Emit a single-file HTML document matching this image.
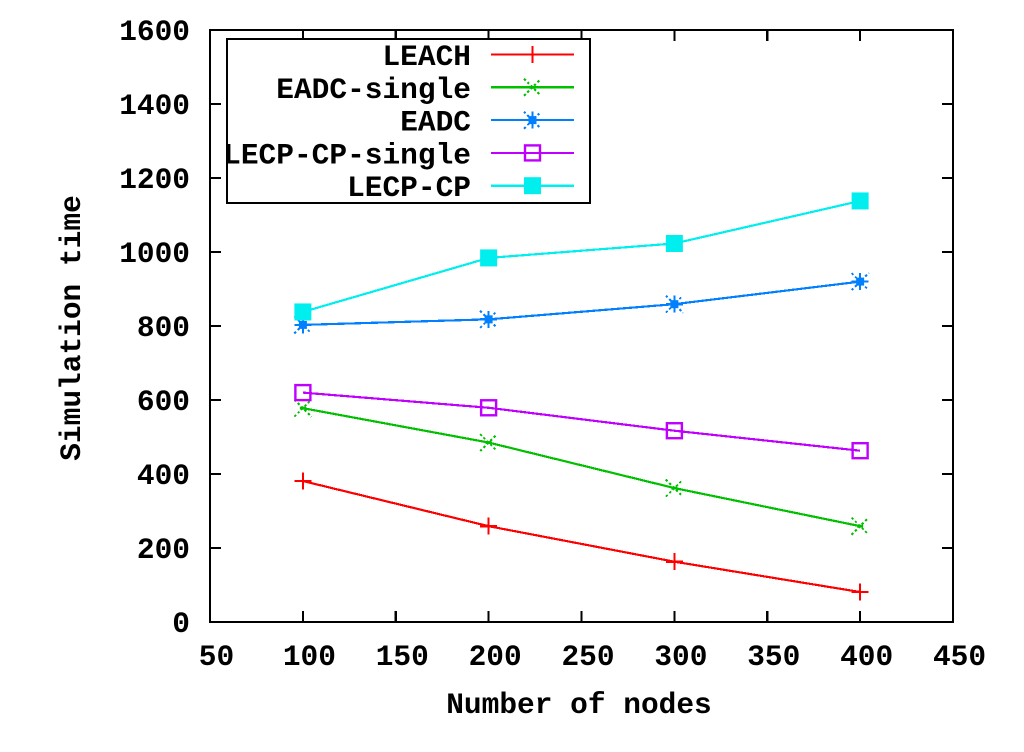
<!DOCTYPE html>
<html lang="en">
<head>
<meta charset="utf-8">
<title>Simulation time vs number of nodes</title>
<style>
html,body{margin:0;padding:0;background:#fff;}
svg{display:block;}
text{font-family:"Liberation Mono",monospace;font-weight:bold;font-size:29.5px;fill:#000;}
</style>
</head>
<body>
<svg id="chart" xmlns="http://www.w3.org/2000/svg" width="1024" height="752" viewBox="0 0 1024 752"></svg>
<script>
const categories = [100, 200, 300, 400];
const leachValues = [381, 259, 163, 81];
const eadcSingleValues = [578, 485, 362, 259];
const eadcValues = [803, 818, 859, 920];
const lecpSingleValues = [620, 579, 517, 463];
const lecpValues = [838, 984, 1023, 1138];
const xTicks = [50, 100, 150, 200, 250, 300, 350, 400, 450];
const yTicks = [0, 200, 400, 600, 800, 1000, 1200, 1400, 1600];
const seriesNames = ['LEACH', 'EADC-single', 'EADC', 'LECP-CP-single', 'LECP-CP'];
const seriesValues = [leachValues, eadcSingleValues, eadcValues, lecpSingleValues, lecpValues];
const seriesColors = ['#ff0000', '#00c000', '#0080ff', '#c000ff', '#00eeee'];
const seriesMarkers = ['plus', 'cross', 'star', 'box', 'filled'];

const NS = 'http://www.w3.org/2000/svg';
const svg = document.getElementById('chart');
const plot = {left: 210, right: 953, top: 30, bottom: 622};
const sx = v => plot.left + (v - xTicks[0]) / (xTicks[xTicks.length - 1] - xTicks[0]) * (plot.right - plot.left);
const sy = v => plot.bottom - (v - yTicks[0]) / (yTicks[yTicks.length - 1] - yTicks[0]) * (plot.bottom - plot.top);

function make(tag, attrs, parent) {
  const el = document.createElementNS(NS, tag);
  for (const k in attrs) el.setAttribute(k, attrs[k]);
  (parent || svg).appendChild(el);
  return el;
}
function seg(parent, x1, y1, x2, y2, color, w) {
  return make('line', {x1, y1, x2, y2, stroke: color, 'stroke-width': w, 'shape-rendering': 'crispEdges'}, parent);
}
function label(parent, str, x, y, anchor) {
  const t = make('text', {x, y, 'text-anchor': anchor}, parent);
  t.textContent = str;
  return t;
}
function drawMarker(parent, kind, cx, cy, color) {
  const r = 8.5;
  if (kind === 'plus' || kind === 'star') {
    seg(parent, cx - r, cy, cx + r, cy, color, 2.2);
    seg(parent, cx, cy - r, cx, cy + r, color, 2.2);
  }
  if (kind === 'cross' || kind === 'star') {
    const d = make('path', {
      d: `M${cx - r} ${cy - r}L${cx + r} ${cy + r}M${cx - r} ${cy + r}L${cx + r} ${cy - r}`,
      stroke: color, 'stroke-width': 2, fill: 'none', 'stroke-dasharray': '2.4 2.4'
    }, parent);
    d.setAttribute('shape-rendering', 'crispEdges');
  }
  if (kind === 'star') {
    make('rect', {x: cx - 4, y: cy - 4, width: 8, height: 8, fill: color}, parent);
  }
  if (kind === 'cross') {
    make('rect', {x: cx - 3, y: cy - 1.5, width: 6, height: 3, fill: color}, parent);
  }
  if (kind === 'box') {
    make('rect', {x: cx - r + 1, y: cy - r + 1, width: 2 * r - 2, height: 2 * r - 2, fill: 'none', stroke: color, 'stroke-width': 2.4}, parent);
  }
  if (kind === 'filled') {
    make('rect', {x: cx - r, y: cy - r, width: 2 * r, height: 2 * r, fill: color}, parent);
  }
}

/* x axis ticks */
const xAxis = make('g', {});


xTicks.forEach(v => {
  const x = sx(v);
  if (v !== xTicks[0] && v !== xTicks[xTicks.length - 1]) {
    const t1 = seg(xAxis, x, plot.bottom, x, plot.bottom - 11, '#000', 2.2);
    
    
    const t2 = seg(xAxis, x, plot.top, x, plot.top + 11, '#000', 2.2);
    
    
  }
  const tl = label(xAxis, String(v), x + 6.5, 665, 'middle');
  
  
});

/* y axis ticks */
const yAxis = make('g', {});


yTicks.forEach(v => {
  const y = sy(v);
  if (v !== yTicks[0] && v !== yTicks[yTicks.length - 1]) {
    const t1 = seg(yAxis, plot.left, y, plot.left + 11, y, '#000', 2.2);
    
    
    const t2 = seg(yAxis, plot.right, y, plot.right - 11, y, '#000', 2.2);
    
    
  }
  const tl = label(yAxis, String(v), 190, y + 10, 'end');
  
  
});

/* frame */
const frame = make('rect', {x: plot.left, y: plot.top, width: plot.right - plot.left, height: plot.bottom - plot.top, fill: 'none', stroke: '#000', 'stroke-width': 2.2, 'shape-rendering': 'crispEdges'});



/* axis titles */
const xTitle = label(svg, 'Number of nodes', 579, 713, 'middle');


const yTitle = label(svg, 'Simulation time', 0, 0, 'middle');
yTitle.setAttribute('transform', 'translate(80 328) rotate(-90)');



/* series */
seriesNames.forEach((name, i) => {
  const g = make('g', {});
  
  
  const pts = categories.map((c, j) => [sx(c), sy(seriesValues[i][j])]);
  const line = make('polyline', {points: pts.map(p => p.join(',')).join(' '), fill: 'none', stroke: seriesColors[i], 'stroke-width': 2.2, 'shape-rendering': 'crispEdges'}, g);
  
  
  pts.forEach(p => {
    const m = make('g', {}, g);
    
    
    drawMarker(m, seriesMarkers[i], p[0], p[1], seriesColors[i]);
  });
});

/* legend */
const legend = make('g', {});


const legendBox = make('rect', {x: 227, y: 39, width: 363, height: 164, fill: '#fff', stroke: '#000', 'stroke-width': 2.2, 'shape-rendering': 'crispEdges'}, legend);


seriesNames.forEach((name, i) => {
  const y = 54.5 + i * 32.8;
  const row = make('g', {}, legend);
  
  
  label(row, name, 471, y + 10.5, 'end');
  seg(row, 491, y, 574, y, seriesColors[i], 2.2);
  drawMarker(row, seriesMarkers[i], 532.5, y, seriesColors[i]);
});
</script>
</body>
</html>
